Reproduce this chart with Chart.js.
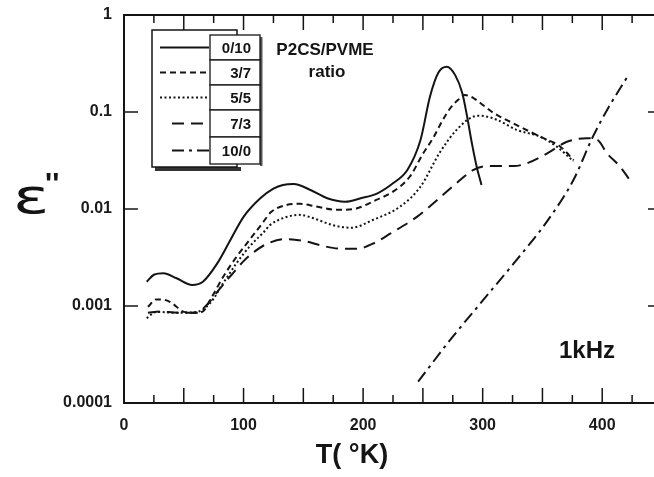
<!DOCTYPE html>
<html>
<head>
<meta charset="utf-8">
<script src="https://cdn.jsdelivr.net/npm/chart.js@4/dist/chart.umd.min.js"></script>
<style>
  html, body { margin: 0; padding: 0; background: #fff; overflow: hidden; }
  #wrap { position: absolute; left: 0; top: 0; width: 670px; height: 477px; }
</style>
</head>
<body>
<div id="wrap"><canvas id="c" width="670" height="477"></canvas></div>
<script>
// Dielectric loss ε'' at 1 kHz versus temperature for P2CS/PVME blends.

const ratios = ['0/10', '3/7', '5/5', '7/3', '10/0'];

// 0/10
const temp_0_10 = [19, 25, 33, 44, 57, 66, 78, 89, 100, 114, 125, 133, 142, 156, 170, 185, 198, 212, 225, 237, 248, 256, 263, 270, 277, 283, 287, 291, 295, 299];
const eps_0_10  = [0.00178, 0.0021, 0.00218, 0.00193, 0.00165, 0.00178, 0.00275, 0.0048, 0.0083, 0.0129, 0.0162, 0.0177, 0.0181, 0.0157, 0.0129, 0.0119, 0.0129, 0.0145, 0.0184, 0.0252, 0.0514, 0.145, 0.255, 0.293, 0.24, 0.156, 0.0895, 0.0475, 0.0273, 0.0177];

// 3/7
const temp_3_7 = [20, 27, 35, 41, 50, 60, 66, 72, 83, 94, 105, 116, 123, 136, 147, 161, 178, 195, 211, 225, 239, 250, 259, 266, 273, 280, 285, 292, 298, 309, 326, 348, 365, 376];
const eps_3_7  = [0.00098, 0.00117, 0.00115, 0.00105, 0.00087, 0.00085, 0.00088, 0.00115, 0.002, 0.0032, 0.0048, 0.0072, 0.0093, 0.011, 0.0113, 0.0106, 0.0098, 0.0102, 0.0124, 0.0151, 0.0215, 0.037, 0.055, 0.08, 0.11, 0.135, 0.15, 0.14, 0.124, 0.098, 0.076, 0.0557, 0.0439, 0.032];

// 5/5
const temp_5_5 = [19, 27, 44, 61, 72, 83, 94, 105, 117, 122, 135, 147, 160, 175, 190, 208, 231, 248, 264, 278, 292, 298, 312, 329, 348, 362, 376];
const eps_5_5  = [0.00075, 0.00087, 0.00085, 0.00087, 0.00107, 0.00172, 0.00275, 0.0041, 0.0058, 0.0068, 0.0082, 0.0087, 0.0079, 0.0068, 0.0064, 0.0077, 0.0106, 0.017, 0.038, 0.065, 0.0895, 0.0915, 0.083, 0.065, 0.0557, 0.0439, 0.031];

// 7/3
const temp_7_3 = [20, 30, 45, 60, 70, 80, 90, 100, 110, 120, 135, 150, 165, 181, 195, 210, 223, 245, 262, 278, 292, 304, 326, 337, 354, 370, 387, 396, 404, 415, 423];
const eps_7_3  = [0.00085, 0.00088, 0.00085, 0.00085, 0.00105, 0.0015, 0.0021, 0.0029, 0.0037, 0.0044, 0.0049, 0.0047, 0.0042, 0.0039, 0.0039, 0.0045, 0.0056, 0.0083, 0.0124, 0.0184, 0.0252, 0.0277, 0.0277, 0.0296, 0.0375, 0.049, 0.0536, 0.0515, 0.0375, 0.0273, 0.0199];

// 10/0
const temp_10_0 = [246, 273, 298, 326, 354, 376, 392, 405, 421];
const eps_10_0  = [0.000166, 0.00045, 0.00106, 0.00275, 0.0075, 0.02, 0.055, 0.11, 0.23];

// Axis ticks
const xTickValues = [0, 25, 50, 75, 100, 125, 150, 175, 200, 225, 250, 275, 300, 325, 350, 375, 400, 425, 450];
const xTickLabels = { 0: '0', 100: '100', 200: '200', 300: '300', 400: '400' };
const yTickValues = [0.0001, 0.001, 0.01, 0.1, 1];
const yTickLabels = ['0.0001', '0.001', '0.01', '0.1', '1'];

const INK = '#141414';
const FONT = '"Liberation Sans", Arial, Helvetica, sans-serif';
const dashes = [[], [6, 4], [2, 2.5], [12, 7], [12, 5, 3, 5]];

const seriesT = [temp_0_10, temp_3_7, temp_5_5, temp_7_3, temp_10_0];
const seriesV = [eps_0_10, eps_3_7, eps_5_5, eps_7_3, eps_10_0];

const datasets = ratios.map((r, i) => ({
  label: r,
  data: seriesT[i].map((t, k) => ({ x: t, y: seriesV[i][k] })),
  borderColor: INK,
  borderWidth: 2,
  borderDash: dashes[i],
  borderCapStyle: 'butt',
  pointRadius: 0,
  fill: false,
  cubicInterpolationMode: 'monotone'
}));

function line(ctx, x1, y1, x2, y2) {
  ctx.beginPath(); ctx.moveTo(x1, y1); ctx.lineTo(x2, y2); ctx.stroke();
}

// Frame with inward ticks on all four sides, legend panel and annotations
const decorations = {
  id: 'decorations',
  afterDraw(chart) {
    const ctx = chart.ctx, a = chart.chartArea;
    const xs = chart.scales.x, ys = chart.scales.y;
    ctx.save();
    ctx.strokeStyle = INK;
    ctx.lineCap = 'butt';

    // ticks
    ctx.lineWidth = 1.5;
    xs.ticks.forEach(t => {
      if (t.value <= xs.min || t.value >= xs.max) return;
      const px = xs.getPixelForValue(t.value);
      const len = (t.value % 50 === 0) ? 15 : 8;
      line(ctx, px, a.bottom, px, a.bottom - len);
      line(ctx, px, a.top, px, a.top + len);
    });
    ys.ticks.forEach(t => {
      if (t.value <= ys.min || t.value >= ys.max) return;
      const py = ys.getPixelForValue(t.value);
      line(ctx, a.left, py, a.left + 14, py);
      line(ctx, a.right, py, a.right - 14, py);
    });

    // frame
    ctx.lineWidth = 2;
    ctx.strokeRect(a.left, a.top, a.right - a.left, a.bottom - a.top);

    // legend panel
    const bx = 152, by = 30, bw = 85, bh = 137;
    ctx.fillStyle = '#333';
    ctx.fillRect(bx + 3, by + bh, bw + 1, 4);
    ctx.fillStyle = '#fff';
    ctx.fillRect(bx, by, bw, bh);
    ctx.lineWidth = 1.5;
    ctx.strokeRect(bx, by, bw, bh);

    const tops = [35, 60, 85, 110, 137];
    const bots = [60, 85, 110, 137, 164];
    const sampleStart = [160, 160, 160, 172, 172];
    chart.data.datasets.forEach((ds, i) => {
      const top = tops[i], h = bots[i] - tops[i], mid = top + h / 2;
      ctx.fillStyle = '#555';
      ctx.fillRect(260, top + 2, 2.5, h);
      ctx.fillStyle = '#fff';
      ctx.fillRect(210, top, 50, h);
      ctx.lineWidth = 1.3;
      ctx.setLineDash([]);
      ctx.strokeRect(210, top, 50, h);
      ctx.fillStyle = INK;
      ctx.font = 'bold 15px ' + FONT;
      ctx.textAlign = 'right';
      ctx.textBaseline = 'middle';
      ctx.fillText(ds.label, 251, mid + 1);
      ctx.lineWidth = 2.2;
      ctx.setLineDash(ds.borderDash);
      line(ctx, sampleStart[i], mid, 209, mid);
      ctx.setLineDash([]);
    });

    // annotations
    ctx.fillStyle = INK;
    ctx.textBaseline = 'alphabetic';
    ctx.textAlign = 'center';
    ctx.font = 'bold 17px ' + FONT;
    ctx.fillText('P2CS/PVME', 325, 55);
    ctx.fillText('ratio', 327, 77);

    ctx.textAlign = 'left';
    ctx.font = 'bold 24px ' + FONT;
    ctx.fillText('1kHz', 559, 358);

    ctx.textAlign = 'center';
    ctx.font = 'bold 27px ' + FONT;
    ctx.fillText('T( °K)', 352, 463);

    // y-axis title ε''
    ctx.save();
    ctx.translate(13, 213);
    ctx.scale(1.4, 1);
    ctx.textAlign = 'left';
    ctx.font = '48px "DejaVu Sans", sans-serif';
    ctx.fillText('ε', 0, 0);
    ctx.restore();
    ctx.textAlign = 'left';
    ctx.font = 'bold 30px ' + FONT;
    ctx.fillText("''", 45, 193);

    ctx.restore();
  }
};

new Chart(document.getElementById('c'), {
  type: 'line',
  data: { datasets },
  options: {
    responsive: false,
    animation: false,
    devicePixelRatio: 1,
    layout: { padding: { top: 15, right: 8, left: 0, bottom: 0 } },
    plugins: { legend: { display: false }, tooltip: { enabled: false } },
    scales: {
      x: {
        type: 'linear',
        min: 0,
        max: 450,
        afterBuildTicks: s => { s.ticks = xTickValues.map(v => ({ value: v })); },
        afterFit: s => { s.height = 74; s.paddingLeft = 0; s.paddingRight = 0; },
        grid: { display: false, drawTicks: false },
        border: { display: false },
        ticks: {
          autoSkip: false,
          maxRotation: 0,
          padding: 13,
          color: '#1a1a1a',
          font: { family: FONT, size: 16, weight: 'bold' },
          callback: v => (xTickLabels[v] !== undefined ? xTickLabels[v] : '')
        }
      },
      y: {
        type: 'logarithmic',
        min: 0.0001,
        max: 1,
        afterBuildTicks: s => { s.ticks = yTickValues.map(v => ({ value: v })); },
        afterFit: s => { s.width = 124; s.paddingTop = 0; s.paddingBottom = 0; },
        grid: { display: false, drawTicks: false },
        border: { display: false },
        ticks: {
          autoSkip: false,
          padding: 12,
          color: '#1a1a1a',
          font: { family: FONT, size: 16, weight: 'bold' },
          callback: v => {
            const i = yTickValues.indexOf(v);
            return i >= 0 ? yTickLabels[i] : '';
          }
        }
      }
    }
  },
  plugins: [decorations]
});
</script>
</body>
</html>
